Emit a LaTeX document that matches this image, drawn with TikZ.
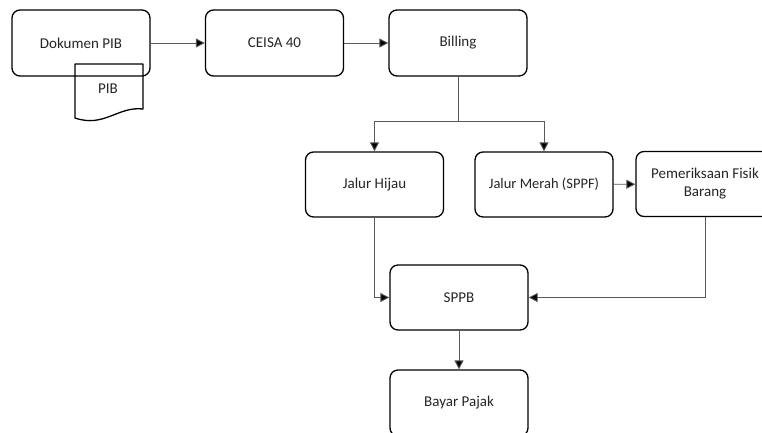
\documentclass[tikz,border=0pt]{standalone}
\usepackage{fontspec}
\setmainfont{Carlito}
\usetikzlibrary{arrows.meta}
\begin{document}
\begin{tikzpicture}[x=1pt,y=-1pt,
  box/.style={draw=black,line width=1.3pt,rounded corners=8pt,minimum width=138pt,minimum height=66pt,inner sep=2pt,align=center,font=\fontsize{15}{18}\selectfont,text=black!85},
  conn/.style={draw=black!65,line width=0.9pt,-{Triangle[length=9pt,width=9pt,fill=black]}},
  plain/.style={draw=black!65,line width=0.9pt}]
\clip (0,0) rectangle (762,432);
\fill[white] (0,0) rectangle (762,432);
\node[box] (dok) at (81,43) {Dokumen PIB};
\node[box] (ceisa) at (274.5,43) {CEISA 40};
\node[box] (bill) at (458,43) {Billing};
\node[box,minimum height=65pt] (hijau) at (374.5,184.5) {Jalur Hijau};
\node[box,minimum height=65pt,font=\fontsize{14.5}{18}\selectfont] (merah) at (544,184.5) {Jalur Merah (SPPF)};
\node[box,minimum height=65pt] (pem) at (705,184) {Pemeriksaan Fisik\\Barang};
\node[box,minimum height=65pt] (sppb) at (459,297.5) {SPPB};
\node[box] (bayar) at (459,403) {Bayar Pajak};
% document shape
\draw[line width=1.3pt,line join=round] (75,64) -- (143,64) -- (143,109)
  .. controls (118,106) and (104,128) .. (75,118) -- cycle;
\node[font=\fontsize{15}{18}\selectfont,text=black!85] (pib) at (108,89) {PIB};
\coordinate (split) at (458,121);
\draw[conn] (dok) -- (ceisa);
\draw[conn] (ceisa) -- (bill);
\draw[plain] (bill) -- (split);
\draw[conn] (split) -| (hijau);
\draw[conn] (split) -| (merah);
\draw[conn] (merah) -- (pem);
\draw[conn] (hijau) |- (sppb);
\draw[conn] (pem) |- (sppb);
\draw[conn] (sppb) -- (bayar);
\end{tikzpicture}
\end{document}
